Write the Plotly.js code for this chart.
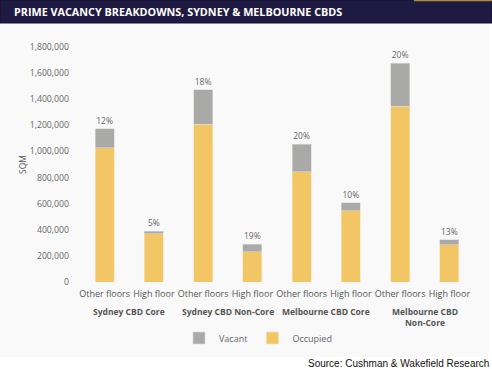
<!DOCTYPE html>
<html>
<head>
<meta charset="utf-8">
<script src="https://cdn.plot.ly/plotly-3.0.1.min.js"></script>
<style>
html,body{margin:0;padding:0;background:#ffffff;}
#chart{width:492px;height:369px;}
</style>
</head>
<body>
<div id="chart"></div>
<script>
// ---- data ----
var groupNames = ["Sydney CBD Core", "Sydney CBD Non-Core", "Melbourne CBD Core", "Melbourne CBD<br>Non-Core"];
var groupOfBar = [0, 0, 1, 1, 2, 2, 3, 3];
var floors = ["Other floors", "High floor", "Other floors", "High floor",
              "Other floors", "High floor", "Other floors", "High floor"];
var occupied = [1030000, 370000, 1210000, 232000, 845000, 547000, 1348000, 284000];
var vacant   = [145000, 20000, 262000, 57000, 211000, 60000, 328000, 40000];
var vacancyLabels = ["12%", "5%", "18%", "19%", "20%", "10%", "20%", "13%"];
var yTicks = [0, 200000, 400000, 600000, 800000, 1000000, 1200000, 1400000, 1600000, 1800000];

var W = 492, H = 369;
var M = {l: 80, r: 18, t: 47, b: 87};
var pw = W - M.l - M.r, ph = H - M.t - M.b;
function px(x) { return (x - M.l) / pw; }
function py(y) { return (H - M.b - y) / ph; }

var FONT = "Open Sans, sans-serif";
var xpos = floors.map(function(f, i){ return i; });

var traces = [
  {
    type: "bar", name: "Occupied", x: xpos, y: occupied,
    marker: {color: "#F2C665", line: {color: "#F7E3B8", width: 0.6}},
    hoverinfo: "none"
  },
  {
    type: "bar", name: "Vacant", x: xpos, y: vacant,
    marker: {color: "#A9AAA8", line: {color: "#D8D8D8", width: 0.6}},
    text: vacancyLabels, textposition: "outside", cliponaxis: false,
    textfont: {family: FONT, size: 8.5, color: "#666666"},
    hoverinfo: "none"
  }
];

// group labels centred under their bars
var groupAnn = groupNames.map(function(name, g){
  var idx = [];
  groupOfBar.forEach(function(gb, i){ if (gb === g) idx.push(xpos[i]); });
  var cx = idx.reduce(function(a, b){ return a + b; }, 0) / idx.length;
  return {xref: "x", yref: "paper", x: cx, y: py(304), xanchor: "center", yanchor: "top",
          showarrow: false, text: "<b>" + name + "</b>",
          font: {family: FONT, size: 8.5, color: "#555555"}};
});

var layout = {
  width: W, height: H,
  margin: M,
  paper_bgcolor: "#ffffff",
  plot_bgcolor: "#F9F9F9",
  barmode: "stack",
  bargap: 0.61,
  font: {family: FONT, size: 8.5, color: "#666666"},
  title: {
    text: "<b>PRIME VACANCY BREAKDOWNS, SYDNEY &amp; MELBOURNE CBDS</b>",
    font: {family: FONT, size: 10.8, color: "#ffffff"},
    x: 14 / W, xanchor: "left", xref: "container",
    y: 1 - 12 / H, yanchor: "middle", yref: "container"
  },
  xaxis: {
    type: "linear",
    range: [-0.5, floors.length - 0.5],
    tickvals: xpos, ticktext: floors,
    showgrid: false, zeroline: false, showline: false,
    ticks: "", ticklabelstandoff: 5,
    tickfont: {family: FONT, size: 9, color: "#555555"}
  },
  yaxis: {
    range: [0, 1800000],
    tickvals: yTicks,
    tickformat: ",d",
    showgrid: false, zeroline: false, showline: false,
    ticks: "", ticklabelstandoff: 10,
    tickfont: {family: FONT, size: 8.7, color: "#666666"},
    title: {text: "SQM", standoff: 1, font: {family: FONT, size: 8.5, color: "#555555"}}
  },
  showlegend: true,
  legend: {
    orientation: "h", traceorder: "reversed",
    x: px(258), xanchor: "center",
    y: py(338), yanchor: "middle",
    font: {family: FONT, size: 9, color: "#666666"},
    bgcolor: "rgba(0,0,0,0)",
    itemwidth: 30
  },
  shapes: [
    {type: "rect", xref: "paper", yref: "paper", layer: "below",
     x0: px(0), x1: px(489), y0: py(357), y1: py(24),
     fillcolor: "#F9F9F9", line: {width: 0}},
    {type: "rect", xref: "paper", yref: "paper", layer: "below",
     x0: px(0), x1: px(492), y0: py(23), y1: py(0),
     fillcolor: "#1F1A42", line: {color: "#14102E", width: 1}},
    {type: "line", xref: "paper", yref: "paper",
     x0: px(414), x1: px(492), y0: py(0.5), y1: py(0.5),
     line: {color: "#B08A3E", width: 1.5}}
  ],
  annotations: groupAnn.concat([
    {xref: "paper", yref: "paper", x: px(491), y: py(363),
     xanchor: "right", yanchor: "middle", showarrow: false,
     text: "Source: Cushman &amp; Wakefield Research",
     font: {family: "Liberation Sans, Arial, sans-serif", size: 10, color: "#111111"}}
  ])
};

Plotly.newPlot("chart", traces, layout, {displayModeBar: false, staticPlot: true});
</script>
</body>
</html>
